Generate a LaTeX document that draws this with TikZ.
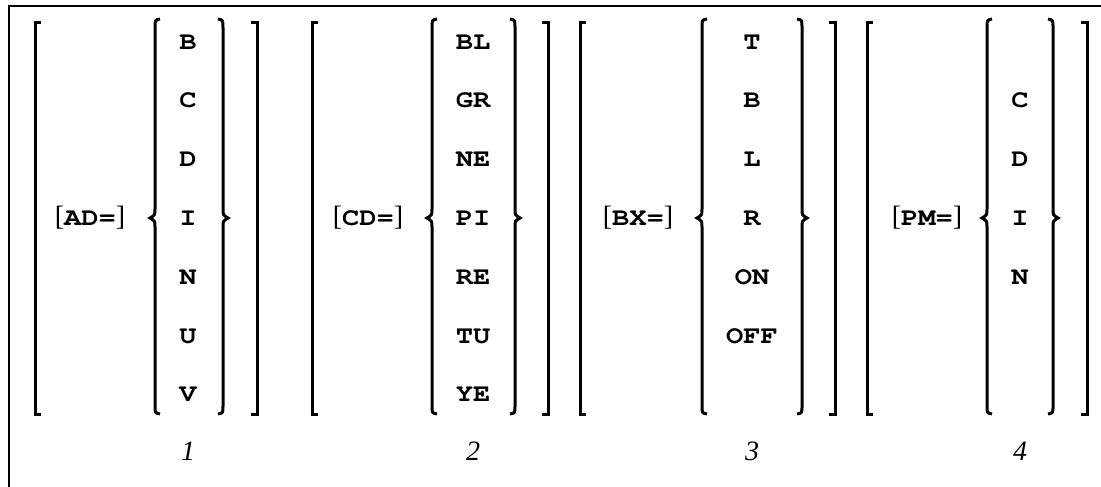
\documentclass[tikz,border=0pt]{standalone}
\usepackage[T1]{fontenc}
\usepackage{graphicx}
\usepackage{fontspec}
\setmainfont{Liberation Serif}
\newcommand\courb{\fontencoding{T1}\fontfamily{pcr}\fontseries{b}\fontshape{n}\fontsize{25}{25}\selectfont}
\newcommand\cw[1]{\scalebox{1.15}[1]{\courb #1}}
\tikzset{
  frameline/.style={line width=2pt},
  sqbr/.style={line width=3pt, line join=miter},
  brc/.style={line width=3pt, line cap=butt},
  item/.style={anchor=base, inner sep=0pt},
  kw/.style={font=\fontsize{28}{28}\selectfont, anchor=base, inner sep=0pt},
  num/.style={font=\itshape\fontsize{28}{28}\selectfont, anchor=base, inner sep=0pt},
}
\newcommand\lsq[1]{\draw[sqbr] (#1+6,23) -- (#1,23) -- (#1,414) -- (#1+6,414);}
\newcommand\rsq[1]{\draw[sqbr] (#1-6,23) -- (#1,23) -- (#1,414) -- (#1-6,414);}
\newcommand\lbrc[1]{\draw[brc] (#1+5,19) .. controls (#1,20) .. (#1,28) -- (#1,209) .. controls (#1,215) .. (#1-5,218) .. controls (#1,221) .. (#1,227) -- (#1,406) .. controls (#1,413) .. (#1+5,414);}
\newcommand\rbrc[1]{\draw[brc] (#1-5,19) .. controls (#1,20) .. (#1,28) -- (#1,209) .. controls (#1,215) .. (#1+5,218) .. controls (#1,221) .. (#1,227) -- (#1,406) .. controls (#1,413) .. (#1-5,414);}
\begin{document}
\begin{tikzpicture}[x=1pt,y=-1pt]
\useasboundingbox (0,0) rectangle (1101,487);
\fill[white] (0,0) rectangle (1101,487);
% frame (top and left)
\draw[frameline] (1101,6) -- (9,6) -- (9,487);
% group brackets
\lsq{35}  \lbrc{155} \rbrc{223} \rsq{257}
\lsq{312} \lbrc{432} \rbrc{515} \rsq{548}
\lsq{580} \lbrc{702} \rbrc{802} \rsq{835}
\lsq{867} \lbrc{987} \rbrc{1053} \rsq{1087}
% keywords
\node[kw] (k1) at (90,225)  {[\cw{AD=}]};
\node[kw] (k2) at (368,225) {[\cw{CD=}]};
\node[kw] (k3) at (638,225) {[\cw{BX=}]};
\node[kw] (k4) at (927,225) {[\cw{PM=}]};
% group 1
\node[item] (a1) at (188,50)  {\cw{B}};
\node[item] (a2) at (188,107) {\cw{C}};
\node[item] (a3) at (188,166) {\cw{D}};
\node[item] (a4) at (188,225) {\cw{I}};
\node[item] (a5) at (188,284) {\cw{N}};
\node[item] (a6) at (188,343) {\cw{U}};
\node[item] (a7) at (188,401) {\cw{V}};
% group 2
\node[item] (b1) at (473,50)  {\cw{BL}};
\node[item] (b2) at (473,107) {\cw{GR}};
\node[item] (b3) at (473,166) {\cw{NE}};
\node[item] (b4) at (473,225) {\cw{PI}};
\node[item] (b5) at (473,284) {\cw{RE}};
\node[item] (b6) at (473,343) {\cw{TU}};
\node[item] (b7) at (473,401) {\cw{YE}};
% group 3
\node[item] (c1) at (752,50)  {\cw{T}};
\node[item] (c2) at (752,107) {\cw{B}};
\node[item] (c3) at (752,166) {\cw{L}};
\node[item] (c4) at (752,225) {\cw{R}};
\node[item] (c5) at (752,284) {\cw{ON}};
\node[item] (c6) at (752,343) {\cw{OFF}};
% group 4
\node[item] (d2) at (1020,107) {\cw{C}};
\node[item] (d3) at (1020,166) {\cw{D}};
\node[item] (d4) at (1020,225) {\cw{I}};
\node[item] (d5) at (1020,284) {\cw{N}};
% numbers
\node[num] (n1) at (188,460)  {1};
\node[num] (n2) at (473,460)  {2};
\node[num] (n3) at (752,460)  {3};
\node[num] (n4) at (1020,460) {4};
\end{tikzpicture}
\end{document}
